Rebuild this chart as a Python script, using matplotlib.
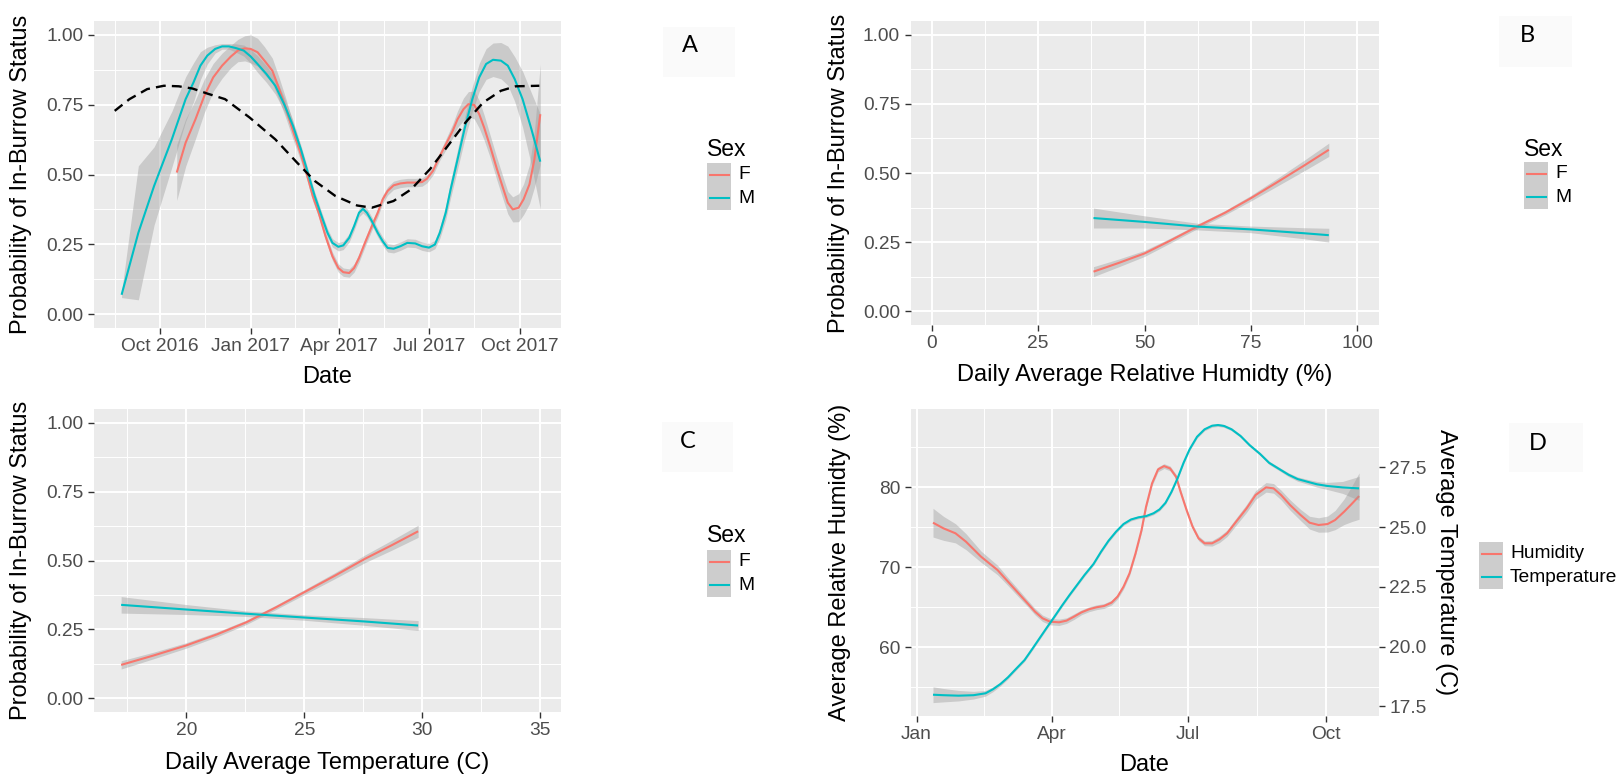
import numpy as np
import matplotlib
matplotlib.use("Agg")
import matplotlib.pyplot as plt
from matplotlib.patches import Rectangle
from matplotlib.lines import Line2D

# ---------------------------------------------------------------- data
# Panel A: smoothed probability of in-burrow status over time
a_model_dates = ["2016-08-16", "2016-08-31", "2016-09-18", "2016-10-05", "2016-10-20",
                 "2016-11-03", "2016-11-18", "2016-12-06", "2016-12-31", "2017-01-26",
                 "2017-02-17", "2017-03-07", "2017-03-28", "2017-04-19", "2017-05-04",
                 "2017-05-26", "2017-06-13", "2017-07-02", "2017-07-20", "2017-08-07",
                 "2017-08-25", "2017-09-12", "2017-09-27", "2017-10-21"]
a_model_prob = [0.728, 0.77, 0.806, 0.818, 0.816, 0.808, 0.79, 0.77, 0.704, 0.626,
                0.543, 0.477, 0.423, 0.389, 0.381, 0.405, 0.447, 0.519, 0.602, 0.686,
                0.758, 0.80, 0.816, 0.818]

# females: days since 1 Oct 2016
a_f_day = [17, 26, 36, 45, 54, 63, 72, 79, 86, 92,
           99, 106, 114, 121, 128, 135, 143, 150, 155, 161,
           168, 175, 181, 186, 192, 197, 202, 208, 215, 221,
           226, 231, 237, 244, 251, 259, 266, 271, 277, 284,
           291, 297, 302, 308, 313, 319, 324, 329, 335, 342,
           348, 353, 358, 364, 369, 375, 380, 386]
a_f_prob = [0.507, 0.614, 0.698, 0.782, 0.848, 0.890, 0.923, 0.944, 0.952, 0.950,
            0.938, 0.908, 0.872, 0.806, 0.734, 0.656, 0.572, 0.489, 0.423, 0.363,
            0.279, 0.207, 0.165, 0.150, 0.147, 0.165, 0.201, 0.255, 0.315, 0.363,
            0.411, 0.441, 0.461, 0.468, 0.471, 0.471, 0.473, 0.485, 0.513, 0.566,
            0.614, 0.656, 0.698, 0.734, 0.752, 0.749, 0.716, 0.668, 0.602, 0.519,
            0.453, 0.399, 0.375, 0.381, 0.411, 0.465, 0.554, 0.716]
a_f_se = [0.1, 0.085, 0.07, 0.06, 0.05, 0.045, 0.04, 0.04, 0.045, 0.05,
          0.05, 0.05, 0.045, 0.04, 0.035, 0.03, 0.025, 0.02, 0.018, 0.015,
          0.015, 0.015, 0.015, 0.015, 0.015, 0.015, 0.015, 0.015, 0.015, 0.015,
          0.015, 0.015, 0.015, 0.015, 0.015, 0.015, 0.015, 0.015, 0.015, 0.015,
          0.02, 0.025, 0.03, 0.04, 0.045, 0.05, 0.05, 0.045, 0.04, 0.04,
          0.04, 0.04, 0.045, 0.05, 0.055, 0.07, 0.1, 0.18]

# males: days since 1 Oct 2016
a_m_day = [-39, -22, -6, 12, 19, 26, 34, 41, 48, 56,
           63, 70, 77, 85, 92, 99, 108, 117, 126, 135,
           143, 150, 157, 164, 170, 175, 181, 186, 192, 197,
           202, 206, 210, 215, 221, 226, 231, 237, 244, 251,
           259, 266, 273, 279, 284, 290, 295, 302, 309, 317,
           324, 331, 338, 346, 353, 360, 368, 377, 386]
a_m_prob = [0.069, 0.291, 0.459, 0.626, 0.698, 0.770, 0.830, 0.890, 0.926, 0.950,
            0.959, 0.959, 0.953, 0.944, 0.923, 0.896, 0.860, 0.818, 0.752, 0.674,
            0.590, 0.507, 0.423, 0.351, 0.291, 0.255, 0.241, 0.246, 0.273, 0.315,
            0.363, 0.377, 0.363, 0.333, 0.291, 0.261, 0.237, 0.234, 0.243, 0.255,
            0.253, 0.243, 0.238, 0.249, 0.291, 0.363, 0.447, 0.554, 0.662, 0.770,
            0.848, 0.896, 0.911, 0.908, 0.890, 0.842, 0.770, 0.662, 0.546]
a_m_se = [0.01, 0.24, 0.14, 0.1, 0.09, 0.08, 0.07, 0.05, 0.03, 0.015,
          0.01, 0.01, 0.015, 0.02, 0.025, 0.03, 0.03, 0.03, 0.025, 0.02,
          0.015, 0.015, 0.015, 0.015, 0.015, 0.015, 0.015, 0.015, 0.015, 0.015,
          0.015, 0.015, 0.015, 0.015, 0.015, 0.015, 0.015, 0.015, 0.015, 0.015,
          0.015, 0.015, 0.015, 0.015, 0.02, 0.025, 0.03, 0.035, 0.04, 0.045,
          0.05, 0.055, 0.06, 0.065, 0.07, 0.08, 0.1, 0.13, 0.17]

a_ticks = ["2016-10-01", "2017-01-01", "2017-04-01", "2017-07-01", "2017-10-01"]
a_tick_labels = ["Oct 2016", "Jan 2017", "Apr 2017", "Jul 2017", "Oct 2017"]

# Panel B: probability vs daily average relative humidity
b_f_hum = [38.0, 44.0, 50.0, 56.0, 62.6, 69.0, 75.0, 81.0, 87.4, 93.3]
b_f_prob = [0.143, 0.175, 0.209, 0.255, 0.308, 0.357, 0.409, 0.465, 0.526, 0.584]
b_f_se = [0.018, 0.014, 0.011, 0.009, 0.008, 0.008, 0.01, 0.014, 0.019, 0.024]
b_m_hum = [38.0, 50.0, 62.5, 75.0, 87.5, 93.3]
b_m_prob = [0.337, 0.323, 0.306, 0.296, 0.282, 0.275]
b_m_se = [0.036, 0.022, 0.012, 0.012, 0.02, 0.025]
b_ticks = [0, 25, 50, 75, 100]

# Panel C: probability vs daily average temperature
c_f_temp = [17.23, 18.6, 19.97, 21.3, 22.55, 23.8, 25.0, 26.3, 27.57, 28.7, 29.83]
c_f_prob = [0.121, 0.155, 0.191, 0.232, 0.276, 0.33, 0.385, 0.445, 0.506, 0.555, 0.606]
c_f_se = [0.015, 0.012, 0.01, 0.009, 0.008, 0.008, 0.009, 0.011, 0.014, 0.018, 0.022]
c_m_temp = [17.23, 20.0, 22.5, 25.0, 27.5, 29.83]
c_m_prob = [0.339, 0.322, 0.307, 0.293, 0.279, 0.264]
c_m_se = [0.03, 0.018, 0.01, 0.01, 0.014, 0.018]
c_ticks = [20, 25, 30, 35]

prob_ticks = [0.0, 0.25, 0.5, 0.75, 1.0]
prob_tick_labels = ["0.00", "0.25", "0.50", "0.75", "1.00"]

# Panel D: smoothed humidity and temperature, days since 1 Jan 2017
d_hum_day = [11, 18, 26, 33, 43, 54, 61, 69, 74, 79,
             84, 89, 95, 100, 105, 110, 115, 120, 125, 130,
             134, 138, 142, 146, 150, 153, 157, 161, 165, 169,
             173, 176, 180, 184, 188, 192, 197, 202, 207, 213,
             220, 226, 233, 238, 243, 249, 256, 262, 268, 274,
             279, 285, 290, 295]
d_humidity = [75.58, 74.87, 74.25, 73.20, 71.33, 69.66, 68.20, 66.54, 65.50, 64.45,
              63.62, 63.20, 63.12, 63.33, 63.83, 64.37, 64.75, 65.0, 65.16, 65.58,
              66.33, 67.58, 69.25, 71.75, 74.66, 77.58, 80.5, 82.25, 82.66, 82.37,
              81.33, 79.45, 77.16, 75.08, 73.62, 73.0, 73.0, 73.5, 74.25, 75.70,
              77.37, 79.04, 80.0, 79.87, 79.04, 77.79, 76.54, 75.58, 75.29, 75.41,
              75.91, 76.95, 77.91, 78.91]
d_hum_se = [1.8, 1.5, 1.2, 1.0, 0.7, 0.6, 0.5, 0.45, 0.4, 0.4,
            0.4, 0.4, 0.4, 0.35, 0.35, 0.3, 0.3, 0.3, 0.3, 0.3,
            0.3, 0.3, 0.3, 0.3, 0.3, 0.3, 0.3, 0.3, 0.3, 0.3,
            0.3, 0.3, 0.3, 0.3, 0.3, 0.3, 0.35, 0.4, 0.4, 0.45,
            0.5, 0.55, 0.6, 0.6, 0.6, 0.65, 0.7, 0.8, 0.9, 1.0,
            1.2, 1.6, 2.2, 2.9]

d_temp_day = [11, 18, 28, 38, 46, 51, 56, 61, 66, 72,
              77, 82, 87, 92, 97, 102, 107, 112, 118, 123,
              128, 133, 138, 143, 148, 153, 158, 162, 166, 170,
              174, 178, 182, 187, 192, 197, 201, 205, 210, 216,
              222, 229, 235, 242, 248, 254, 261, 267, 274, 284,
              295]
d_temperature = [17.99, 17.97, 17.95, 17.97, 18.05, 18.22, 18.44, 18.72, 19.05, 19.44,
                 19.89, 20.35, 20.81, 21.26, 21.72, 22.16, 22.58, 23.0, 23.46, 23.97,
                 24.43, 24.81, 25.13, 25.32, 25.41, 25.46, 25.58, 25.74, 26.02, 26.48,
                 27.04, 27.69, 28.25, 28.78, 29.09, 29.24, 29.27, 29.23, 29.09, 28.81,
                 28.43, 28.06, 27.69, 27.42, 27.19, 27.01, 26.89, 26.79, 26.72, 26.66,
                 26.62]
d_temp_se = [0.33, 0.28, 0.22, 0.16, 0.12, 0.1, 0.08, 0.07, 0.06, 0.06,
             0.06, 0.06, 0.06, 0.06, 0.06, 0.06, 0.06, 0.06, 0.06, 0.06,
             0.06, 0.06, 0.06, 0.06, 0.06, 0.06, 0.06, 0.06, 0.06, 0.06,
             0.06, 0.06, 0.06, 0.06, 0.06, 0.06, 0.06, 0.06, 0.06, 0.06,
             0.06, 0.06, 0.07, 0.07, 0.08, 0.09, 0.1, 0.12, 0.15, 0.25,
             0.5]

d_ticks = ["2017-01-01", "2017-04-01", "2017-07-01", "2017-10-01"]
d_tick_labels = ["Jan", "Apr", "Jul", "Oct"]
d_hum_ticks = [60, 70, 80]
d_temp_ticks = [17.5, 20.0, 22.5, 25.0, 27.5]

sex_levels = ["F", "M"]
var_levels = ["Humidity", "Temperature"]

# ---------------------------------------------------------------- style
W, H, DPI = 1623, 778, 100
F_COL, M_COL = "#F8766D", "#00BFC4"
PANEL_BG = "#EBEBEB"
BAND_COL, BAND_ALPHA = "#999999", 0.4
TICK_TXT, TICK_COL = "#4D4D4D", "#333333"
TICK_SIZE, TITLE_SIZE = 13.8, 17.0

plt.rcParams["font.family"] = ["Liberation Sans", "DejaVu Sans"]

fig = plt.figure(figsize=(W / DPI, H / DPI), dpi=DPI)
fig.patch.set_facecolor("white")


def rect(l, t, r, b):
    return [l / W, 1 - b / H, (r - l) / W, (b - t) / H]


def fx(x):
    return x / W


def fy(y):
    return 1 - y / H


def d64(vals):
    return np.array(vals, dtype="datetime64[D]")


def from_days(start, days):
    return np.datetime64(start) + np.array(days, dtype="timedelta64[D]")


def style_axes(ax):
    ax.set_facecolor(PANEL_BG)
    for s in ax.spines.values():
        s.set_visible(False)
    ax.set_axisbelow(True)
    ax.grid(which="major", color="white", linewidth=1.4)
    ax.grid(which="minor", color="white", linewidth=0.7)
    ax.tick_params(which="major", length=4, width=1, color=TICK_COL,
                   labelsize=TICK_SIZE, labelcolor=TICK_TXT, pad=3.5)
    ax.tick_params(which="minor", length=0)


def smooth(ax, x, y, se, color, z=3):
    y = np.asarray(y)
    se = np.asarray(se)
    ax.fill_between(x, y - se, y + se, color=BAND_COL, alpha=BAND_ALPHA,
                    linewidth=0, zorder=z)
    ax.plot(x, y, color=color, linewidth=1.5, zorder=z + 0.5,
            solid_capstyle="butt", solid_joinstyle="round")


def prob_axis(ax):
    ax.set_ylim(-0.05, 1.05)
    ax.set_yticks(prob_ticks)
    ax.set_yticklabels(prob_tick_labels)
    ax.set_yticks([0.125, 0.375, 0.625, 0.875], minor=True)
    ax.set_ylabel("Probability of In-Burrow Status", fontsize=TITLE_SIZE)


def label_positions(ax, xlab_y, ylab_x):
    ax.xaxis.label.set_fontsize(TITLE_SIZE)
    ax.xaxis.set_label_coords(0.5, xlab_y)
    ax.xaxis.label.set_va("center")
    ax.yaxis.set_label_coords(ylab_x, 0.5)
    ax.yaxis.label.set_va("center")


def panel_tag(letter, cx, cy, l, t, r, b):
    fig.add_artist(Rectangle((fx(l), fy(b)), fx(r) - fx(l), fy(t) - fy(b),
                             transform=fig.transFigure, facecolor="#FAFAFA",
                             edgecolor="none"))
    fig.text(fx(cx), fy(cy), letter, fontsize=17, family="Lato",
             ha="center", va="center", color="black")


def key_legend(names, colors, left, key_top, title=None, title_y=None):
    kw, kh = 24, 23.5
    fig.add_artist(Rectangle((fx(left), fy(key_top + kh * len(names))),
                             kw / W, kh * len(names) / H,
                             transform=fig.transFigure, facecolor="#CDCDCD",
                             edgecolor="none"))
    for i, (name, col) in enumerate(zip(names, colors)):
        yc = key_top + kh * (i + 0.5)
        fig.add_artist(Line2D([fx(left + 2.5), fx(left + kw - 2.5)], [fy(yc), fy(yc)],
                              transform=fig.transFigure, color=col, linewidth=1.5))
        fig.text(fx(left + kw + 7), fy(yc), name, fontsize=TICK_SIZE,
                 ha="left", va="center", color="black")
    if title is not None:
        fig.text(fx(left), fy(title_y), title, fontsize=16.5,
                 ha="left", va="center", color="black")


# ---------------------------------------------------------------- panel A
axA = fig.add_axes(rect(94, 21, 561, 328))
style_axes(axA)
smooth(axA, from_days("2016-10-01", a_f_day), a_f_prob, a_f_se, F_COL)
smooth(axA, from_days("2016-10-01", a_m_day), a_m_prob, a_m_se, M_COL)
axA.plot(d64(a_model_dates), a_model_prob, color="black", linewidth=1.7,
         linestyle=(0, (4.2, 2.6)), zorder=5)
axA.set_xlim(np.datetime64("2016-07-26"), np.datetime64("2017-11-12"))
axA.set_xticks(d64(a_ticks))
axA.set_xticklabels(a_tick_labels)
axA.set_xticks(d64(["2016-08-16", "2016-11-16", "2017-02-15", "2017-05-16",
                    "2017-08-16"]), minor=True)
prob_axis(axA)
axA.set_xlabel("Date")
label_positions(axA, -0.16, -0.156)

# ---------------------------------------------------------------- panel B
axB = fig.add_axes(rect(910.5, 21, 1378.6, 325))
style_axes(axB)
smooth(axB, b_f_hum, b_f_prob, b_f_se, F_COL)
smooth(axB, b_m_hum, b_m_prob, b_m_se, M_COL)
axB.set_xlim(-5, 105)
axB.set_xticks(b_ticks)
axB.set_xticks([12.5, 37.5, 62.5, 87.5], minor=True)
prob_axis(axB)
axB.set_xlabel("Daily Average Relative Humidty (%)")
label_positions(axB, -0.165, -0.153)

# ---------------------------------------------------------------- panel C
axC = fig.add_axes(rect(94, 409, 561, 712))
style_axes(axC)
smooth(axC, c_f_temp, c_f_prob, c_f_se, F_COL)
smooth(axC, c_m_temp, c_m_prob, c_m_se, M_COL)
axC.set_xlim(16.08, 35.89)
axC.set_xticks(c_ticks)
axC.set_xticks([17.5, 22.5, 27.5, 32.5], minor=True)
prob_axis(axC)
axC.set_xlabel("Daily Average Temperature (C)")
label_positions(axC, -0.168, -0.156)

# ---------------------------------------------------------------- panel D
axD = fig.add_axes(rect(910.5, 409, 1378.6, 716))
style_axes(axD)
smooth(axD, from_days("2017-01-01", d_hum_day), d_humidity, d_hum_se, F_COL)
axD.set_xlim(np.datetime64("2016-12-28"), np.datetime64("2017-11-05"))
axD.set_ylim(51.4, 89.8)
axD.set_xticks(d64(d_ticks))
axD.set_xticklabels(d_tick_labels)
axD.set_xticks(d64(["2017-02-15", "2017-05-16", "2017-08-16"]), minor=True)
axD.set_yticks(d_hum_ticks)
axD.set_yticks([55, 65, 75, 85], minor=True)
axD.set_xlabel("Date")
axD.set_ylabel("Average Relative Humidty (%)", fontsize=TITLE_SIZE)
label_positions(axD, -0.16, -0.151)

axT = axD.twinx()
axT.patch.set_visible(False)
for s in axT.spines.values():
    s.set_visible(False)
smooth(axT, from_days("2017-01-01", d_temp_day), d_temperature, d_temp_se, M_COL)
axT.set_ylim(17.1, 29.94)
axT.set_yticks(d_temp_ticks)
axT.set_yticklabels([f"{v:.1f}" for v in d_temp_ticks])
axT.tick_params(axis="y", length=4, width=1, color=TICK_COL,
                labelsize=TICK_SIZE, labelcolor=TICK_TXT, pad=3.5)
axT.set_ylabel("Average Temperature (C)", fontsize=TITLE_SIZE, rotation=270)
axT.yaxis.set_label_coords(1.144, 0.5)
axT.yaxis.label.set_va("center")
axT.grid(False)

# ---------------------------------------------------------------- legends and tags
panel_tag("A", 690, 45, 663, 27, 735, 77)
panel_tag("B", 1527, 36, 1499, 16, 1572, 67)
panel_tag("C", 688, 442, 662, 422, 733, 472)
panel_tag("D", 1538, 443, 1509, 423, 1583, 472)

key_legend(sex_levels, [F_COL, M_COL], 707, 163, "Sex", 150)
key_legend(sex_levels, [F_COL, M_COL], 1524, 162, "Sex", 149)
key_legend(sex_levels, [F_COL, M_COL], 707, 550, "Sex", 536)
key_legend(var_levels, [F_COL, M_COL], 1479, 542)

fig.savefig("out.png", dpi=DPI, facecolor="white")
